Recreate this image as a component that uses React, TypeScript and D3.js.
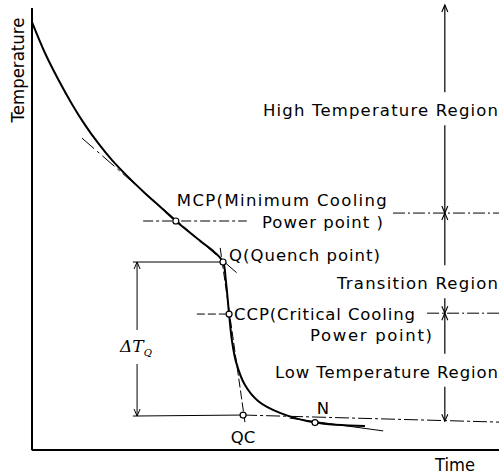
import React from 'react'
import * as d3 from 'd3'

// cooling curve, time vs temperature (arbitrary 0-100 units)
const curveTime = [0, 2.78, 5.57, 8.57, 11.35, 14.13, 17.13, 20.56, 24.2, 27.8, 30.8, 36.0, 39.0, 40.9, 41.5, 42.2, 42.8, 43.7, 45.6, 48.4, 53.1, 60.6, 71.3]
const curveTemp = [96.8, 89.8, 83.9, 78.2, 73.5, 69.4, 65.5, 61.7, 58.0, 54.6, 51.7, 47.2, 44.7, 42.4, 38.3, 30.6, 24.7, 19.7, 14.5, 10.9, 8.2, 6.0, 5.2]

// characteristic points
const pointNames = ['MCP', 'Q', 'CCP', 'QC', 'N']
const pointTime = [30.8, 40.9, 42.2, 45.2, 60.6]
const pointTemp = [51.7, 42.4, 30.6, 7.7, 6.0]

// tangent lines [t1, T1, t2, T2]
const mcpTangent = [10.7, 70.5, 43.9, 39.9]
const steepTangent = [40.3, 45.6, 45.6, 6.1]
const nTangent = [55.2, 7.0, 75.2, 4.1]
const baseLine = [45.2, 7.7, 100, 6.1]

// regions on the right
const regionNames = ['High Temperature Region', 'Transition Region', 'Low Temperature Region']
const regionBounds = [100.7, 53.5, 30.8, 6.3]
const regionLabelTemp = [76.8, 37.6, 17.5]

const W = 499
const H = 476

const x = d3.scaleLinear().domain([0, 100]).range([32, 499])
const y = d3.scaleLinear().domain([0, 100]).range([449, 8])

const font = "'DejaVu Sans', sans-serif"

function arrowHead(px: number, py: number, dir: number) {
  // dir = -1 points up, 1 points down
  const l = 7
  const w = 3
  return `M${px - w},${py - dir * l}L${px},${py}L${px + w},${py - dir * l}`
}

function seg(a: number[]) {
  return { x1: x(a[0]), y1: y(a[1]), x2: x(a[2]), y2: y(a[3]) }
}

export default function App() {
  const line = d3
    .line<number>()
    .x((d, i) => x(curveTime[i]))
    .y((d, i) => y(curveTemp[i]))
    .curve(d3.curveCatmullRom.alpha(0.5))

  const pt = (name: string) => {
    const i = pointNames.indexOf(name)
    return [x(pointTime[i]), y(pointTemp[i])]
  }
  const [mcpX, mcpY] = pt('MCP')
  const [qX, qY] = pt('Q')
  const [ccpX, ccpY] = pt('CCP')
  const [qcX, qcY] = pt('QC')
  const [nX, nY] = pt('N')

  const arrowX = x(88.4)
  const dtX = x(22.5)
  const rightMcpY = y(regionBounds[1])
  const rightCcpY = y(regionBounds[2])

  // region arrow segments, broken around labels
  const segs: JSX.Element[] = []
  regionNames.forEach((name, i) => {
    const top = y(regionBounds[i])
    const bot = y(regionBounds[i + 1])
    const ly = y(regionLabelTemp[i])
    segs.push(<line key={'a' + i} x1={arrowX} y1={top} x2={arrowX} y2={ly - 18} stroke="#000" strokeWidth={1.2} />)
    segs.push(<line key={'b' + i} x1={arrowX} y1={ly + 15} x2={arrowX} y2={bot} stroke="#000" strokeWidth={1.2} />)
    segs.push(<path key={'c' + i} d={arrowHead(arrowX, top, -1)} fill="none" stroke="#000" strokeWidth={1.1} />)
    segs.push(<path key={'d' + i} d={arrowHead(arrowX, bot, 1)} fill="none" stroke="#000" strokeWidth={1.1} />)
  })

  return (
    <svg width={W} height={H} style={{ position: 'absolute', left: 0, top: 0, background: '#fff' }}>
      {/* axes */}
      <line x1={x(0)} y1={y(100)} x2={x(0)} y2={y(-0.3)} stroke="#000" strokeWidth={2} />
      <line x1={x(0)} y1={y(-0.2)} x2={x(100)} y2={y(-0.2)} stroke="#000" strokeWidth={2} />
      <text x={24} y={70} transform="rotate(-90 24 70)" textAnchor="middle" fontFamily={font} fontSize={17} textLength={105} lengthAdjust="spacingAndGlyphs">Temperature</text>
      <text x={435} y={471} fontFamily={font} fontSize={17} textLength={40} lengthAdjust="spacingAndGlyphs">Time</text>

      {/* tangents and reference lines */}
      <line {...seg(mcpTangent)} stroke="#000" strokeWidth={1} strokeDasharray="16 4 3 4" />
      <line {...seg(steepTangent)} stroke="#000" strokeWidth={1} strokeDasharray="9 3" />
      <line {...seg(nTangent)} stroke="#000" strokeWidth={1} />
      <line {...seg(baseLine)} stroke="#000" strokeWidth={1} strokeDasharray="14 3 3 3" />
      <line x1={x(23.8)} y1={mcpY} x2={x(46)} y2={mcpY} stroke="#000" strokeWidth={1} strokeDasharray="10 3 3 3" />
      <line x1={x(21.6)} y1={qY} x2={qX} y2={qY} stroke="#000" strokeWidth={1} />
      <line x1={x(21.6)} y1={qcY + 1} x2={qcX} y2={qcY} stroke="#000" strokeWidth={1} />
      <line x1={x(35.3)} y1={ccpY} x2={ccpX} y2={ccpY} stroke="#000" strokeWidth={1} strokeDasharray="8 3" />
      <line x1={x(77.3)} y1={rightMcpY} x2={x(100)} y2={rightMcpY} stroke="#000" strokeWidth={1} strokeDasharray="12 3 2 3" />
      <line x1={x(84.6)} y1={rightCcpY} x2={x(100)} y2={rightCcpY} stroke="#000" strokeWidth={1} strokeDasharray="12 3 2 3" />

      {/* delta T_Q arrow */}
      <line x1={dtX} y1={qY} x2={dtX} y2={330} stroke="#000" strokeWidth={1} />
      <line x1={dtX} y1={364} x2={dtX} y2={qcY + 1} stroke="#000" strokeWidth={1} />
      <path d={arrowHead(dtX, qY, -1)} fill="none" stroke="#000" strokeWidth={1} />
      <path d={arrowHead(dtX, qcY + 1, 1)} fill="none" stroke="#000" strokeWidth={1} />
      <text x={120} y={352} fontFamily="'DejaVu Serif', serif" fontStyle="italic" fontSize={17}>
        ΔT<tspan fontSize={10} dy={4}>Q</tspan>
      </text>

      {/* cooling curve */}
      <path d={line(curveTime) || ''} fill="none" stroke="#000" strokeWidth={2} />

      {/* region arrows */}
      {segs}

      {/* points */}
      {pointNames.map((n, i) => (
        <circle key={n} cx={x(pointTime[i])} cy={y(pointTemp[i])} r={3} fill="#fff" stroke="#000" strokeWidth={1.2} />
      ))}

      {/* labels */}
      <g fontFamily={font} fontSize={16.5} fill="#000">
        <text x={263} y={y(regionLabelTemp[0]) + 6} textLength={235} lengthAdjust="spacing">{regionNames[0]}</text>
        <text x={337} y={y(regionLabelTemp[1]) + 6} textLength={161} lengthAdjust="spacing">{regionNames[1]}</text>
        <text x={275} y={y(regionLabelTemp[2]) + 6} textLength={223} lengthAdjust="spacing">{regionNames[2]}</text>
        <text x={mcpX + 1} y={206} textLength={210} lengthAdjust="spacing">MCP(Minimum Cooling</text>
        <text x={262} y={228} textLength={121} lengthAdjust="spacing">Power point )</text>
        <text x={qX + 6} y={qY - 1} textLength={151} lengthAdjust="spacing">Q(Quench point)</text>
        <text x={ccpX + 5} y={ccpY + 6} textLength={181} lengthAdjust="spacing">CCP(Critical Cooling</text>
        <text x={310} y={341} textLength={122} lengthAdjust="spacing">Power point)</text>
        <text x={nX + 8} y={nY - 9} textAnchor="middle">N</text>
        <text x={qcX} y={qcY + 28} textAnchor="middle">QC</text>
      </g>
    </svg>
  )
}
